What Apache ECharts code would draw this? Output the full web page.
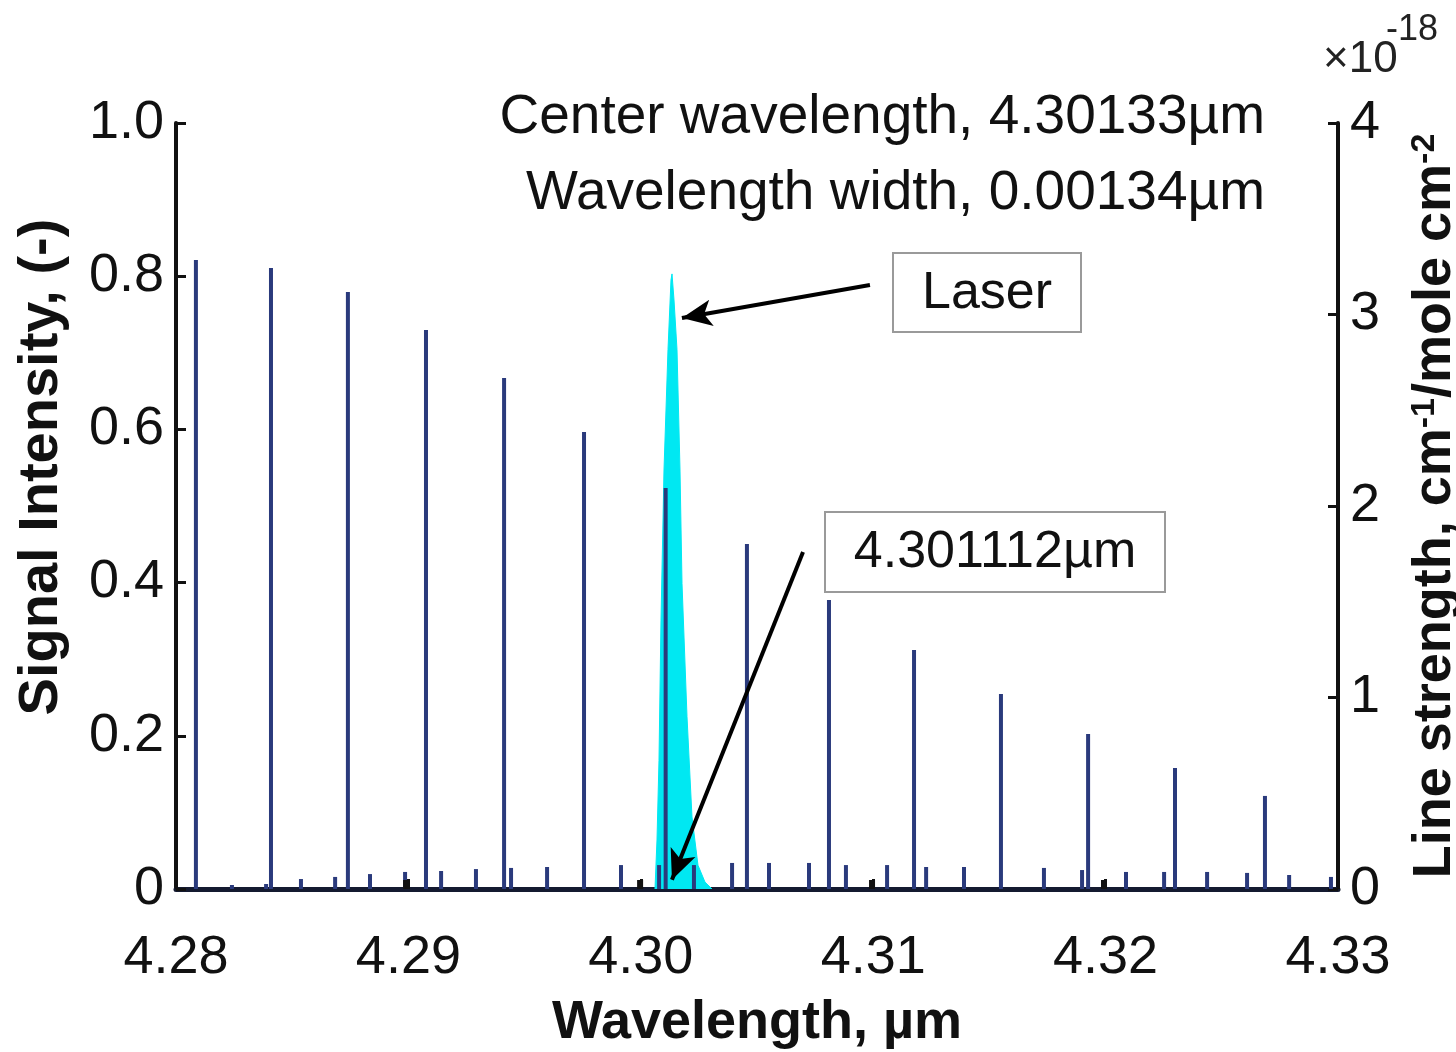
<!DOCTYPE html>
<html><head><meta charset="utf-8">
<script src="https://cdn.jsdelivr.net/npm/echarts@6/dist/echarts.min.js"></script>
<style>html,body{margin:0;padding:0;background:#fff}#c{width:1456px;height:1052px}</style>
</head><body><div id="c"></div>
<script>
// ---- data ----
const xTickLabels = ['4.28', '4.29', '4.30', '4.31', '4.32', '4.33'];
const leftTickLabels = ['0', '0.2', '0.4', '0.6', '0.8', '1.0'];
const rightTickLabels = ['0', '1', '2', '3', '4'];

// strong absorption lines: wavelength (um), line strength (x1e-18)
const strongWl = [4.28090, 4.28413, 4.28744, 4.29080, 4.29416, 4.29760, 4.301112, 4.30461, 4.30814, 4.31180, 4.31554, 4.31929, 4.32303, 4.32690];
const strongS  = [3.285, 3.243, 3.117, 2.919, 2.668, 2.386, 2.094, 1.802, 1.509, 1.248, 1.018, 0.809, 0.632, 0.486];

// weak lines
const weakWl = [4.28245, 4.28392, 4.28542, 4.28689, 4.28839, 4.28990, 4.29145, 4.29295, 4.29446, 4.29601, 4.29919, 4.30083, 4.30233, 4.30397, 4.30556, 4.30728, 4.30887, 4.31064, 4.31232, 4.31395, 4.31739, 4.31903, 4.32092, 4.32256, 4.32441, 4.32613, 4.32794, 4.32974];
const weakS  = [0.021, 0.026, 0.052, 0.063, 0.078, 0.089, 0.094, 0.104, 0.110, 0.115, 0.125, 0.125, 0.125, 0.136, 0.136, 0.136, 0.125, 0.125, 0.115, 0.115, 0.110, 0.099, 0.089, 0.089, 0.089, 0.084, 0.073, 0.063];

// other (black) weak lines
const blackWl = [4.28990, 4.29997, 4.30995, 4.31993];
const blackS  = [0.047, 0.047, 0.047, 0.047];

// laser signal: wavelength (um), intensity (-)
const laserWl = [4.300611, 4.300697, 4.300783, 4.300869, 4.300998, 4.301170, 4.301299, 4.301343, 4.301429, 4.301558, 4.301687, 4.301773, 4.301988, 4.302203, 4.302461, 4.302762, 4.303064];
const laserI  = [0, 0.064, 0.168, 0.351, 0.547, 0.704, 0.795, 0.803, 0.769, 0.704, 0.547, 0.399, 0.225, 0.094, 0.031, 0.009, 0];

// annotation arrows (data coords on left axis)
const laserArrow = [[4.30986, 0.7885], [4.30177, 0.7454]];
const lineArrow  = [[4.30698, 0.440], [4.30134, 0.012]];

// ---- chart ----
const FONT = "'Liberation Sans', Arial, sans-serif";
const zip = (a, b) => a.map((v, i) => [v, b[i]]);

const chart = echarts.init(document.getElementById('c'), null, {renderer: 'canvas'});
const option = {
  animation: false,
  backgroundColor: '#fff',
  textStyle: {fontFamily: FONT},
  grid: {left: 176, right: 118, top: 123, bottom: 163, containLabel: false, outerBoundsMode: 'none'},
  xAxis: {
    type: 'value', min: 4.28, max: 4.33, interval: 0.01,
    name: 'Wavelength, µm', nameLocation: 'middle', nameGap: 107,
    nameTextStyle: {fontSize: 54, fontWeight: 'bold', color: '#111', fontFamily: FONT},
    axisLine: {onZero: false, lineStyle: {color: '#141a30', width: 5}},
    axisTick: {show: true, inside: true, length: 10, lineStyle: {color: '#111', width: 3}},
    axisLabel: {fontSize: 54, color: '#111', margin: 42, fontFamily: FONT,
      formatter: v => xTickLabels[Math.round((v - 4.28) / 0.01)] || v.toFixed(2)},
    splitLine: {show: false}
  },
  yAxis: [{
    type: 'value', min: 0, max: 1, interval: 0.2, position: 'left',
    axisLine: {show: true, onZero: false, lineStyle: {color: '#111', width: 4}},
    axisTick: {show: true, inside: true, length: 10, lineStyle: {color: '#111', width: 3}},
    axisLabel: {fontSize: 54, color: '#111', margin: 12, fontFamily: FONT,
      formatter: v => leftTickLabels[Math.round(v / 0.2)]},
    splitLine: {show: false}
  }, {
    type: 'value', min: 0, max: 4, interval: 1, position: 'right',
    name: '{a|Line strength, cm}{s|-1}{a|/mole cm}{s|-2}',
    nameLocation: 'middle', nameRotate: 90, nameGap: 70,
    nameTextStyle: {color: '#111', rich: {
      a: {fontSize: 54, fontWeight: 'bold', color: '#111', fontFamily: FONT},
      s: {fontSize: 34, fontWeight: 'bold', color: '#111', fontFamily: FONT, verticalAlign: 'top'}
    }},
    axisLine: {show: true, onZero: false, lineStyle: {color: '#111', width: 4}},
    axisTick: {show: true, inside: true, length: 10, lineStyle: {color: '#111', width: 3}},
    axisLabel: {fontSize: 54, color: '#111', margin: 12, fontFamily: FONT,
      formatter: v => rightTickLabels[Math.round(v)]},
    splitLine: {show: false}
  }],
  series: [{
    name: 'Laser', type: 'line', yAxisIndex: 0, z: 1,
    data: zip(laserWl, laserI), showSymbol: false, symbol: 'none',
    lineStyle: {color: '#00e8f2', width: 1},
    areaStyle: {color: '#00e8f2', opacity: 1},
    markLine: {
      silent: true, symbol: ['none', 'arrow'], symbolSize: [20, 30],
      label: {show: false},
      lineStyle: {color: '#000', width: 4, type: 'solid'},
      data: [
        [{coord: laserArrow[0]}, {coord: laserArrow[1]}],
        [{coord: lineArrow[0]}, {coord: lineArrow[1]}]
      ]
    }
  }, {
    name: 'Lines', type: 'bar', yAxisIndex: 1, z: 3, barWidth: 4, barGap: '-100%',
    data: zip(strongWl.concat(weakWl), strongS.concat(weakS)),
    itemStyle: {color: '#2a3a7c'}
  }, {
    name: 'Other lines', type: 'bar', yAxisIndex: 1, z: 3, barWidth: 6, barGap: '-100%',
    data: zip(blackWl, blackS),
    itemStyle: {color: '#111'}
  }],
  graphic: [
    {type: 'text', x: 1265, y: 118, style: {text: 'Center wavelength, 4.30133µm', font: '55px ' + FONT, fill: '#111', align: 'right', verticalAlign: 'middle', textAlign: 'right', textVerticalAlign: 'middle'}},
    {type: 'text', x: 1265, y: 194, style: {text: 'Wavelength width, 0.00134µm', font: '55px ' + FONT, fill: '#111', align: 'right', verticalAlign: 'middle', textAlign: 'right', textVerticalAlign: 'middle'}},
    {type: 'rect', shape: {x: 893, y: 253, width: 188, height: 79}, style: {fill: '#fff', stroke: '#9a9a9a', lineWidth: 2}, z: 10},
    {type: 'text', x: 987, y: 294, z: 11, style: {text: 'Laser', font: '52px ' + FONT, fill: '#111', align: 'center', verticalAlign: 'middle', textAlign: 'center', textVerticalAlign: 'middle'}},
    {type: 'rect', shape: {x: 825, y: 512, width: 340, height: 80}, style: {fill: '#fff', stroke: '#9a9a9a', lineWidth: 2}, z: 10},
    {type: 'text', x: 995, y: 553, z: 11, style: {text: '4.301112µm', font: '52px ' + FONT, fill: '#111', align: 'center', verticalAlign: 'middle', textAlign: 'center', textVerticalAlign: 'middle'}},
    {type: 'text', x: 42, y: 467, rotation: Math.PI / 2, style: {text: 'Signal Intensity, (-)', font: 'bold 56px ' + FONT, fill: '#111', align: 'center', verticalAlign: 'middle', textAlign: 'center', textVerticalAlign: 'middle'}},
    {type: 'text', x: 1323, y: 60, style: {text: '×10', font: '44px ' + FONT, fill: '#222', align: 'left', verticalAlign: 'middle', textAlign: 'left', textVerticalAlign: 'middle'}},
    {type: 'text', x: 1386, y: 30, style: {text: '-18', font: '36px ' + FONT, fill: '#222', align: 'left', verticalAlign: 'middle', textAlign: 'left', textVerticalAlign: 'middle'}}
  ]
};
chart.setOption(option);
</script>
</body></html>
